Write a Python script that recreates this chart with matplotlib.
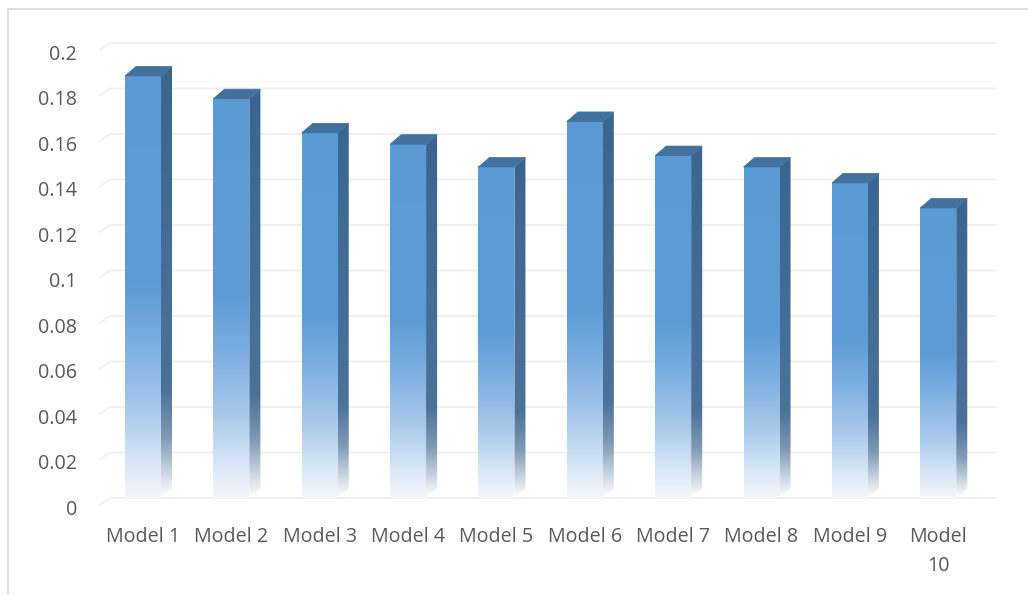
import matplotlib
matplotlib.use('Agg')
import matplotlib.pyplot as plt
import matplotlib.patches as patches
from matplotlib.colors import LinearSegmentedColormap
import numpy as np

models = ['Model 1', 'Model 2', 'Model 3', 'Model 4', 'Model 5',
          'Model 6', 'Model 7', 'Model 8', 'Model 9', 'Model\n10']
scores = [0.188, 0.178, 0.163, 0.158, 0.148, 0.168, 0.153, 0.148, 0.141, 0.130]
yticks = [0, 0.02, 0.04, 0.06, 0.08, 0.1, 0.12, 0.14, 0.16, 0.18, 0.2]
ytick_labels = ['0', '0.02', '0.04', '0.06', '0.08', '0.1', '0.12', '0.14', '0.16', '0.18', '0.2']

# pseudo-3d geometry (data units)
bar_w = 0.407
dx = 0.125        # depth shift right
dy = 0.0042       # depth shift up
front_drop = 0.0025

fontlab = {'family': 'Open Sans', 'color': '#595959', 'size': 14.2}

fig = plt.figure(figsize=(10.28, 5.95), dpi=100, facecolor='w')
ax = fig.add_axes([0, 0, 1, 1])
ax.set_xlim(-143 / 88.36, (1028 - 143) / 88.36)
ax.set_ylim(-97 / 2275, 498 / 2275)
ax.axis('off')

# chart border (cut at right / bottom like the screenshot)
ax.add_patch(patches.Rectangle((8 / 1028, -0.2), 1.2, 1.2 - 9 / 595, transform=ax.transAxes,
                               fill=False, edgecolor='#d9d9d9', linewidth=1.3, clip_on=False))

# gridlines on back wall with little left wall stub
gx0 = (100 - 143) / 88.36
gx1 = (110 - 143) / 88.36
gx2 = (996 - 143) / 88.36
for v, lab in zip(yticks, ytick_labels):
    ax.plot([gx0, gx1, gx2], [v - 0.003, v, v], color='#efefef', linewidth=1.3, zorder=1)
    ax.text((77 - 143) / 88.36, v - 0.0052, lab, ha='right', va='center', fontdict=fontlab)

front_cmap = LinearSegmentedColormap.from_list('front', [
    (0.0, '#f3f7fc'), (0.08, '#d9e7f6'), (0.2, '#abcaeb'),
    (0.36, '#7dafe1'), (0.5, '#5e9cd7'), (1.0, '#5b9bd5')])
side_cmap = LinearSegmentedColormap.from_list('side', [
    (0.0, '#ffffff'), (0.06, '#c9d4e0'), (0.14, '#7f99b6'),
    (0.25, '#4b7299'), (1.0, '#3b6590')])
grad = np.linspace(0, 1, 256).reshape(-1, 1)

for i, (m, v) in enumerate(zip(models, scores)):
    x0 = i - bar_w / 2
    x1 = i + bar_w / 2
    top = v - front_drop
    # front face
    ax.imshow(grad, cmap=front_cmap, origin='lower', aspect='auto',
              extent=[x0, x1, 0, top], zorder=3, interpolation='bilinear')
    # side face
    side = patches.Polygon([(x1, 0), (x1 + dx, dy), (x1 + dx, top + dy), (x1, top)],
                           closed=True, facecolor='none', edgecolor='none')
    ax.add_patch(side)
    im = ax.imshow(grad, cmap=side_cmap, origin='lower', aspect='auto',
                   extent=[x1, x1 + dx, 0, top + dy], zorder=2, interpolation='bilinear')
    im.set_clip_path(side)
    # top face
    ax.add_patch(patches.Polygon([(x0, top), (x1, top), (x1 + dx, top + dy), (x0 + dx, top + dy)],
                                 closed=True, facecolor='#41719c', edgecolor='#41719c',
                                 linewidth=0.5, zorder=4))
    if '\n' in m:
        ax.text(i, -0.0236, m, ha='center', va='center', fontdict=fontlab, linespacing=1.6)
    else:
        ax.text(i, -0.0172, m, ha='center', va='center', fontdict=fontlab)

plt.savefig('out.png', dpi=100, facecolor='w')
